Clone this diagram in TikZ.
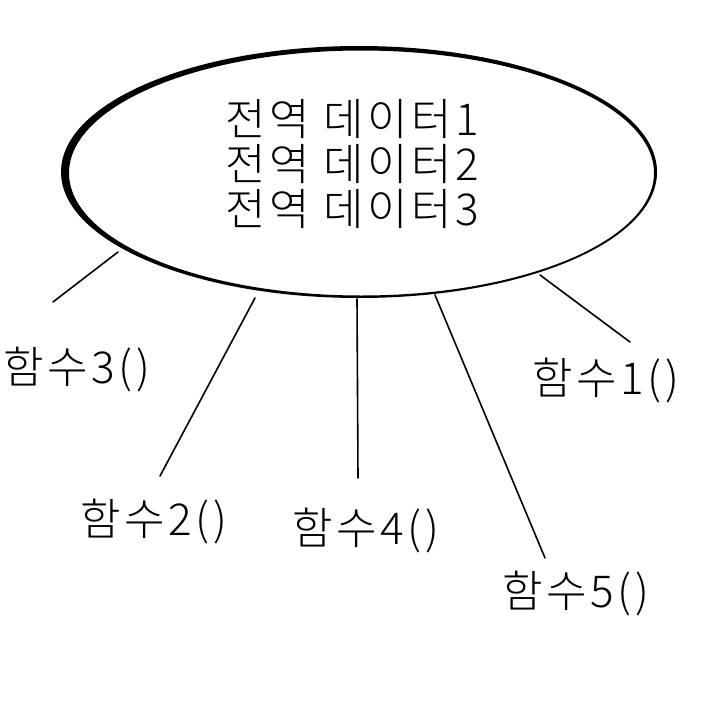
\documentclass[tikz,border=0pt]{standalone}
\usepackage{fontspec}
\setmainfont{Noto Sans CJK KR Light}[LetterSpace=8]
\begin{document}
\begin{tikzpicture}[x=1pt,y=-1pt,
  lbl/.style={font=\fontsize{44}{45}\selectfont, inner sep=0pt, anchor=center},
  conn/.style={line width=1.6pt, line cap=round}]
\useasboundingbox (0,0) rectangle (720,720);
% ellipse ring with varying thickness
\fill[black, even odd rule] (359,172) ellipse [x radius=298, y radius=126]
  (361.5,173) ellipse [x radius=292.5, y radius=122.5];
\node[lbl, align=center] (data) at (352,164)
  {전역 데이터1\\전역 데이터2\\전역 데이터3};
% connector ends on ellipse
\coordinate (e3) at (118,252);
\coordinate (e2) at (255,298);
\coordinate (e4) at (357,299);
\coordinate (e5) at (435,295);
\coordinate (e1) at (540,275);
% outer ends
\coordinate (o3) at (53,302);
\coordinate (o2) at (160,476);
\coordinate (o4) at (358,478);
\coordinate (o5) at (545,558);
\coordinate (o1) at (630,342);
\draw[conn] (e3) -- (o3);
\draw[conn] (e2) -- (o2);
\draw[conn] (e4) -- (o4);
\draw[conn] (e5) -- (o5);
\draw[conn] (e1) -- (o1);
\node[lbl] (f3) at (77,370) {함수3()};
\node[lbl] (f2) at (154,522) {함수2()};
\node[lbl] (f4) at (366,531) {함수4()};
\node[lbl] (f5) at (576,594) {함수5()};
\node[lbl] (f1) at (606,381) {함수1()};
\end{tikzpicture}
\end{document}
